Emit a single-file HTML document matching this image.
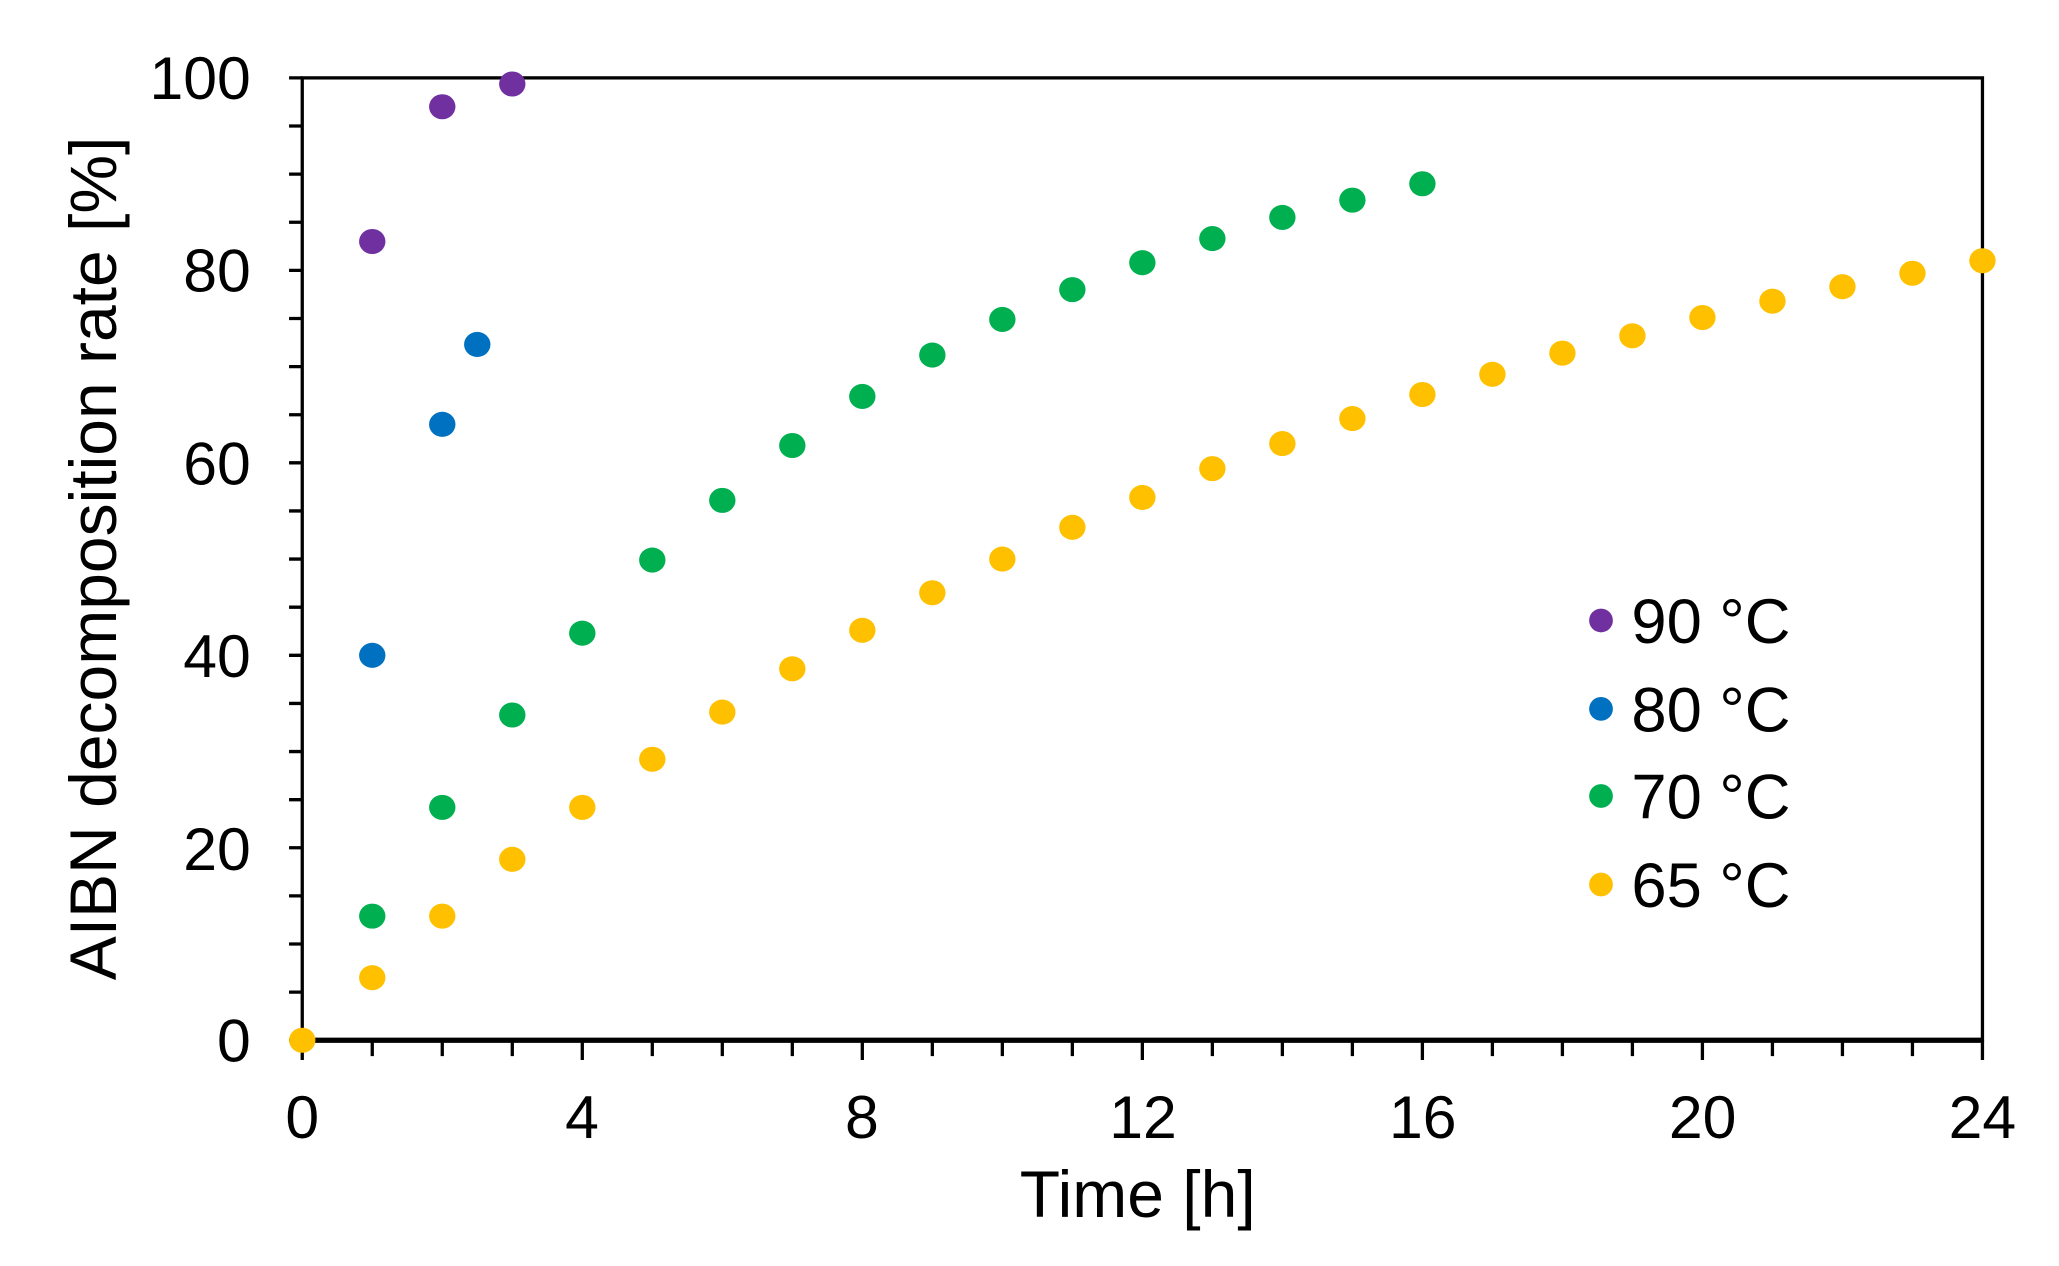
<!DOCTYPE html>
<html><head><meta charset="utf-8"><style>html,body{margin:0;padding:0;background:#fff}svg{display:block}</style></head>
<body>
<svg width="2059" height="1266" viewBox="0 0 1560 959" preserveAspectRatio="none" xmlns="http://www.w3.org/2000/svg" font-family="Liberation Sans, Arial, sans-serif">
<rect width="1560" height="959" fill="#fff"/>
<path stroke="#000" stroke-width="2.5" fill="none" d="M219 788H229M219 751.55H229M219 715.1H229M219 678.65H229M219 642.2H229M219 605.75H229M219 569.3H229M219 532.85H229M219 496.4H229M219 459.95H229M219 423.5H229M219 387.05H229M219 350.6H229M219 314.15H229M219 277.7H229M219 241.25H229M219 204.8H229M219 168.35H229M219 131.9H229M219 95.45H229M219 59H229
M229 788V803M282.04 788V800M335.08 788V800M388.13 788V800M441.17 788V803M494.21 788V800M547.25 788V800M600.29 788V800M653.33 788V803M706.38 788V800M759.42 788V800M812.46 788V800M865.5 788V803M918.54 788V800M971.58 788V800M1024.63 788V800M1077.67 788V803M1130.71 788V800M1183.75 788V800M1236.79 788V800M1289.83 788V803M1342.88 788V800M1395.92 788V800M1448.96 788V800M1502 788V803"/>
<rect x="229" y="59" width="1273" height="729" fill="none" stroke="#000" stroke-width="2.5"/>
<line x1="229" y1="788" x2="1502" y2="788" stroke="#000" stroke-width="4"/>
<g font-size="46" fill="#000">
<g text-anchor="end">
<text x="190" y="75">100</text><text x="190" y="221">80</text><text x="190" y="367">60</text><text x="190" y="513">40</text><text x="190" y="659">20</text><text x="190" y="804">0</text>
</g>
<g text-anchor="middle">
<text x="229" y="862">0</text><text x="441" y="862">4</text><text x="653" y="862">8</text><text x="866" y="862">12</text><text x="1078" y="862">16</text><text x="1290" y="862">20</text><text x="1502" y="862">24</text>
<text x="862" y="922" font-size="50">Time [h]</text>
<text transform="translate(88,423) rotate(-90)" font-size="50">AIBN decomposition rate [%]</text>
</g>
</g>
<g font-size="48" fill="#000">
<circle cx="1213" cy="470" r="9" fill="#7030a0"/><text x="1236" y="487">90 °C</text>
<circle cx="1213" cy="537" r="9" fill="#0070c0"/><text x="1236" y="554">80 °C</text>
<circle cx="1213" cy="603" r="9" fill="#00b050"/><text x="1236" y="620">70 °C</text>
<circle cx="1213" cy="670" r="9" fill="#ffc000"/><text x="1236" y="687">65 °C</text>
</g>
<g fill="#ffc000">
<ellipse cx="229" cy="788" rx="10" ry="9.5"/><ellipse cx="282.04" cy="740.6" rx="10" ry="9.5"/><ellipse cx="335.08" cy="693.96" rx="10" ry="9.5"/><ellipse cx="388.13" cy="650.95" rx="10" ry="9.5"/><ellipse cx="441.17" cy="611.58" rx="10" ry="9.5"/><ellipse cx="494.21" cy="575.13" rx="10" ry="9.5"/><ellipse cx="547.25" cy="539.41" rx="10" ry="9.5"/><ellipse cx="600.29" cy="506.61" rx="10" ry="9.5"/><ellipse cx="653.33" cy="477.45" rx="10" ry="9.5"/><ellipse cx="706.38" cy="449.02" rx="10" ry="9.5"/><ellipse cx="759.42" cy="423.5" rx="10" ry="9.5"/><ellipse cx="812.46" cy="399.44" rx="10" ry="9.5"/><ellipse cx="865.5" cy="376.84" rx="10" ry="9.5"/><ellipse cx="918.54" cy="354.97" rx="10" ry="9.5"/><ellipse cx="971.58" cy="336.02" rx="10" ry="9.5"/><ellipse cx="1024.63" cy="317.07" rx="10" ry="9.5"/><ellipse cx="1077.67" cy="298.84" rx="10" ry="9.5"/><ellipse cx="1130.71" cy="283.53" rx="10" ry="9.5"/><ellipse cx="1183.75" cy="267.49" rx="10" ry="9.5"/><ellipse cx="1236.79" cy="254.37" rx="10" ry="9.5"/><ellipse cx="1289.83" cy="240.52" rx="10" ry="9.5"/><ellipse cx="1342.88" cy="228.13" rx="10" ry="9.5"/><ellipse cx="1395.92" cy="217.19" rx="10" ry="9.5"/><ellipse cx="1448.96" cy="206.99" rx="10" ry="9.5"/><ellipse cx="1502" cy="197.51" rx="10" ry="9.5"/>
</g>
<g fill="#00b050">
<ellipse cx="282.04" cy="693.96" rx="10" ry="9.5"/><ellipse cx="335.08" cy="611.58" rx="10" ry="9.5"/><ellipse cx="388.13" cy="541.6" rx="10" ry="9.5"/><ellipse cx="441.17" cy="479.63" rx="10" ry="9.5"/><ellipse cx="494.21" cy="424.23" rx="10" ry="9.5"/><ellipse cx="547.25" cy="379.03" rx="10" ry="9.5"/><ellipse cx="600.29" cy="337.48" rx="10" ry="9.5"/><ellipse cx="653.33" cy="300.3" rx="10" ry="9.5"/><ellipse cx="706.38" cy="268.95" rx="10" ry="9.5"/><ellipse cx="759.42" cy="241.98" rx="10" ry="9.5"/><ellipse cx="812.46" cy="219.38" rx="10" ry="9.5"/><ellipse cx="865.5" cy="198.97" rx="10" ry="9.5"/><ellipse cx="918.54" cy="180.74" rx="10" ry="9.5"/><ellipse cx="971.58" cy="164.7" rx="10" ry="9.5"/><ellipse cx="1024.63" cy="151.58" rx="10" ry="9.5"/><ellipse cx="1077.67" cy="139.19" rx="10" ry="9.5"/>
</g>
<g fill="#0070c0">
<ellipse cx="282.04" cy="496.4" rx="10" ry="9.5"/><ellipse cx="335.08" cy="321.44" rx="10" ry="9.5"/><ellipse cx="361.6" cy="260.93" rx="10" ry="9.5"/>
</g>
<g fill="#7030a0">
<ellipse cx="282.04" cy="182.93" rx="10" ry="9.5"/><ellipse cx="335.08" cy="80.87" rx="10" ry="9.5"/><ellipse cx="388.13" cy="63.64" rx="10" ry="9.5"/>
</g>
</svg>
</body></html>
